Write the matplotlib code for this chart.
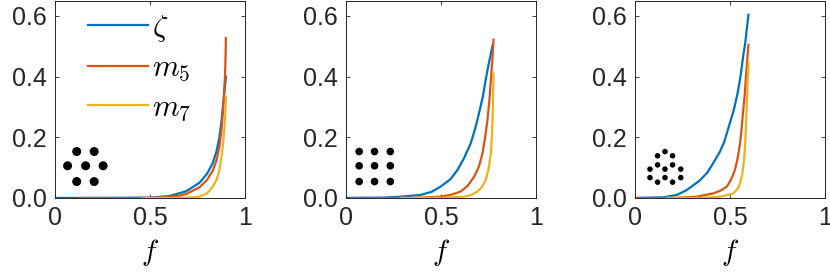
import matplotlib
matplotlib.use("Agg")
import matplotlib.pyplot as plt

plt.rcParams['font.family'] = ['Liberation Sans', 'DejaVu Sans']
plt.rcParams['mathtext.fontset'] = 'cm'

BLUE, RED, YEL = '#0072BD', '#D95319', '#EDB120'

# ---- data: panel 1 (hexagonal 7) ----
p1_zeta_f = [0.01, 0.30, 0.50, 0.60, 0.69, 0.76, 0.80, 0.83, 0.85, 0.865, 0.875, 0.885, 0.892, 0.899]
p1_zeta_y = [0.0, 0.0, 0.001, 0.006, 0.022, 0.05, 0.08, 0.115, 0.155, 0.20, 0.25, 0.31, 0.355, 0.40]
p1_m5_f = [0.13, 0.40, 0.55, 0.65, 0.69, 0.76, 0.80, 0.83, 0.85, 0.865, 0.875, 0.883, 0.889, 0.894, 0.897, 0.899]
p1_m5_y = [0.0, 0.0, 0.001, 0.007, 0.013, 0.035, 0.06, 0.09, 0.125, 0.17, 0.22, 0.28, 0.34, 0.40, 0.46, 0.527]
p1_m7_f = [0.46, 0.60, 0.70, 0.76, 0.80, 0.83, 0.85, 0.865, 0.877, 0.886, 0.892, 0.896, 0.899]
p1_m7_y = [0.0, 0.0, 0.001, 0.004, 0.015, 0.037, 0.06, 0.092, 0.14, 0.19, 0.24, 0.28, 0.334]

# ---- data: panel 2 (square 3x3) ----
p2_zeta_f = [0.0, 0.20, 0.286, 0.392, 0.45, 0.497, 0.55, 0.586, 0.62, 0.656, 0.68, 0.70, 0.72, 0.735, 0.75, 0.772]
p2_zeta_y = [0.0, 0.001, 0.004, 0.01, 0.02, 0.037, 0.062, 0.092, 0.13, 0.18, 0.23, 0.28, 0.335, 0.39, 0.44, 0.505]
p2_m5_f = [0.03, 0.35, 0.497, 0.55, 0.603, 0.64, 0.674, 0.70, 0.718, 0.732, 0.744, 0.754, 0.762, 0.77, 0.776]
p2_m5_y = [0.0, 0.0, 0.004, 0.01, 0.021, 0.04, 0.07, 0.105, 0.147, 0.20, 0.257, 0.32, 0.39, 0.455, 0.522]
p2_m7_f = [0.29, 0.50, 0.62, 0.66, 0.691, 0.715, 0.735, 0.75, 0.762, 0.768, 0.772, 0.776]
p2_m7_y = [0.0, 0.0, 0.004, 0.01, 0.021, 0.036, 0.059, 0.095, 0.147, 0.21, 0.28, 0.41]

# ---- data: panel 3 (13-dot cluster) ----
p3_zeta_f = [0.0, 0.15, 0.22, 0.27, 0.34, 0.38, 0.41, 0.445, 0.47, 0.52, 0.54, 0.555, 0.57, 0.58, 0.597]
p3_zeta_y = [0.0, 0.002, 0.01, 0.025, 0.057, 0.083, 0.113, 0.15, 0.185, 0.29, 0.345, 0.40, 0.47, 0.51, 0.604]
p3_m5_f = [0.01, 0.20, 0.325, 0.412, 0.45, 0.483, 0.505, 0.526, 0.54, 0.553, 0.562, 0.57, 0.578, 0.584, 0.591, 0.597]
p3_m5_y = [0.0, 0.0, 0.004, 0.015, 0.024, 0.037, 0.06, 0.092, 0.13, 0.18, 0.235, 0.29, 0.345, 0.40, 0.455, 0.505]
p3_m7_f = [0.17, 0.35, 0.447, 0.518, 0.54, 0.553, 0.565, 0.574, 0.58, 0.584, 0.591, 0.597]
p3_m7_y = [0.0, 0.0, 0.004, 0.015, 0.03, 0.048, 0.08, 0.125, 0.18, 0.235, 0.345, 0.445]

# inset dot patterns (data coordinates)
hex_x = [0.114, 0.206, 0.066, 0.161, 0.253, 0.114, 0.206]
hex_y = [0.153, 0.153, 0.106, 0.106, 0.106, 0.054, 0.054]
sq_x = [0.069, 0.150, 0.233] * 3
sq_y = [0.153] * 3 + [0.106] * 3 + [0.054] * 3
cl_x = [0.158, 0.119, 0.198, 0.119, 0.198, 0.079, 0.158, 0.241, 0.079, 0.158, 0.241, 0.119, 0.198]
cl_y = [0.153, 0.139, 0.139, 0.109, 0.109, 0.095, 0.095, 0.095, 0.067, 0.067, 0.067, 0.052, 0.052]

labels = [r'$\zeta$', r'$m_5$', r'$m_7$']
xticks = [0, 0.5, 1]
xticklabels = ['0', '0.5', '1']
yticks = [0, 0.2, 0.4, 0.6]
yticklabels = ['0.0', '0.2', '0.4', '0.6']

panels = [
    (p1_zeta_f, p1_zeta_y, p1_m5_f, p1_m5_y, p1_m7_f, p1_m7_y, hex_x, hex_y, 42),
    (p2_zeta_f, p2_zeta_y, p2_m5_f, p2_m5_y, p2_m7_f, p2_m7_y, sq_x, sq_y, 30),
    (p3_zeta_f, p3_zeta_y, p3_m5_f, p3_m5_y, p3_m7_f, p3_m7_y, cl_x, cl_y, 16),
]
lefts = [0.0663, 0.4169, 0.765]

fig = plt.figure(figsize=(8.3, 2.78), dpi=100)
FS = 18
for i, (zf, zy, m5f, m5y, m7f, m7y, dx, dy, ds) in enumerate(panels):
    ax = fig.add_axes([lefts[i], 0.288, 0.229, 0.709])
    ax.plot(zf, zy, color=BLUE, lw=1.6, label=labels[0])
    ax.plot(m5f, m5y, color=RED, lw=1.6, label=labels[1])
    ax.plot(m7f, m7y, color=YEL, lw=1.6, label=labels[2])
    ax.scatter(dx, dy, s=ds, color='black', edgecolors='none', zorder=5)
    ax.set_xlim(0, 1)
    ax.set_ylim(0, 0.65)
    ax.set_xticks(xticks)
    ax.set_xticklabels(xticklabels)
    ax.set_yticks(yticks)
    ax.set_yticklabels(yticklabels)
    ax.tick_params(direction='in', length=3, width=0.6, top=True, right=True,
                   labelsize=FS, colors='#262626', pad=6)
    for s in ax.spines.values():
        s.set_color('#262626')
        s.set_linewidth(0.7)
    ax.set_xlabel(r'$f$', fontsize=21, labelpad=5)
    if i == 0:
        ax.legend(loc='upper left', frameon=False, fontsize=22,
                  handlelength=1.95, labelspacing=0.3, handletextpad=0.15,
                  borderaxespad=0.0, bbox_to_anchor=(0.11, 1.0))

fig.savefig('out.png', dpi=100)
